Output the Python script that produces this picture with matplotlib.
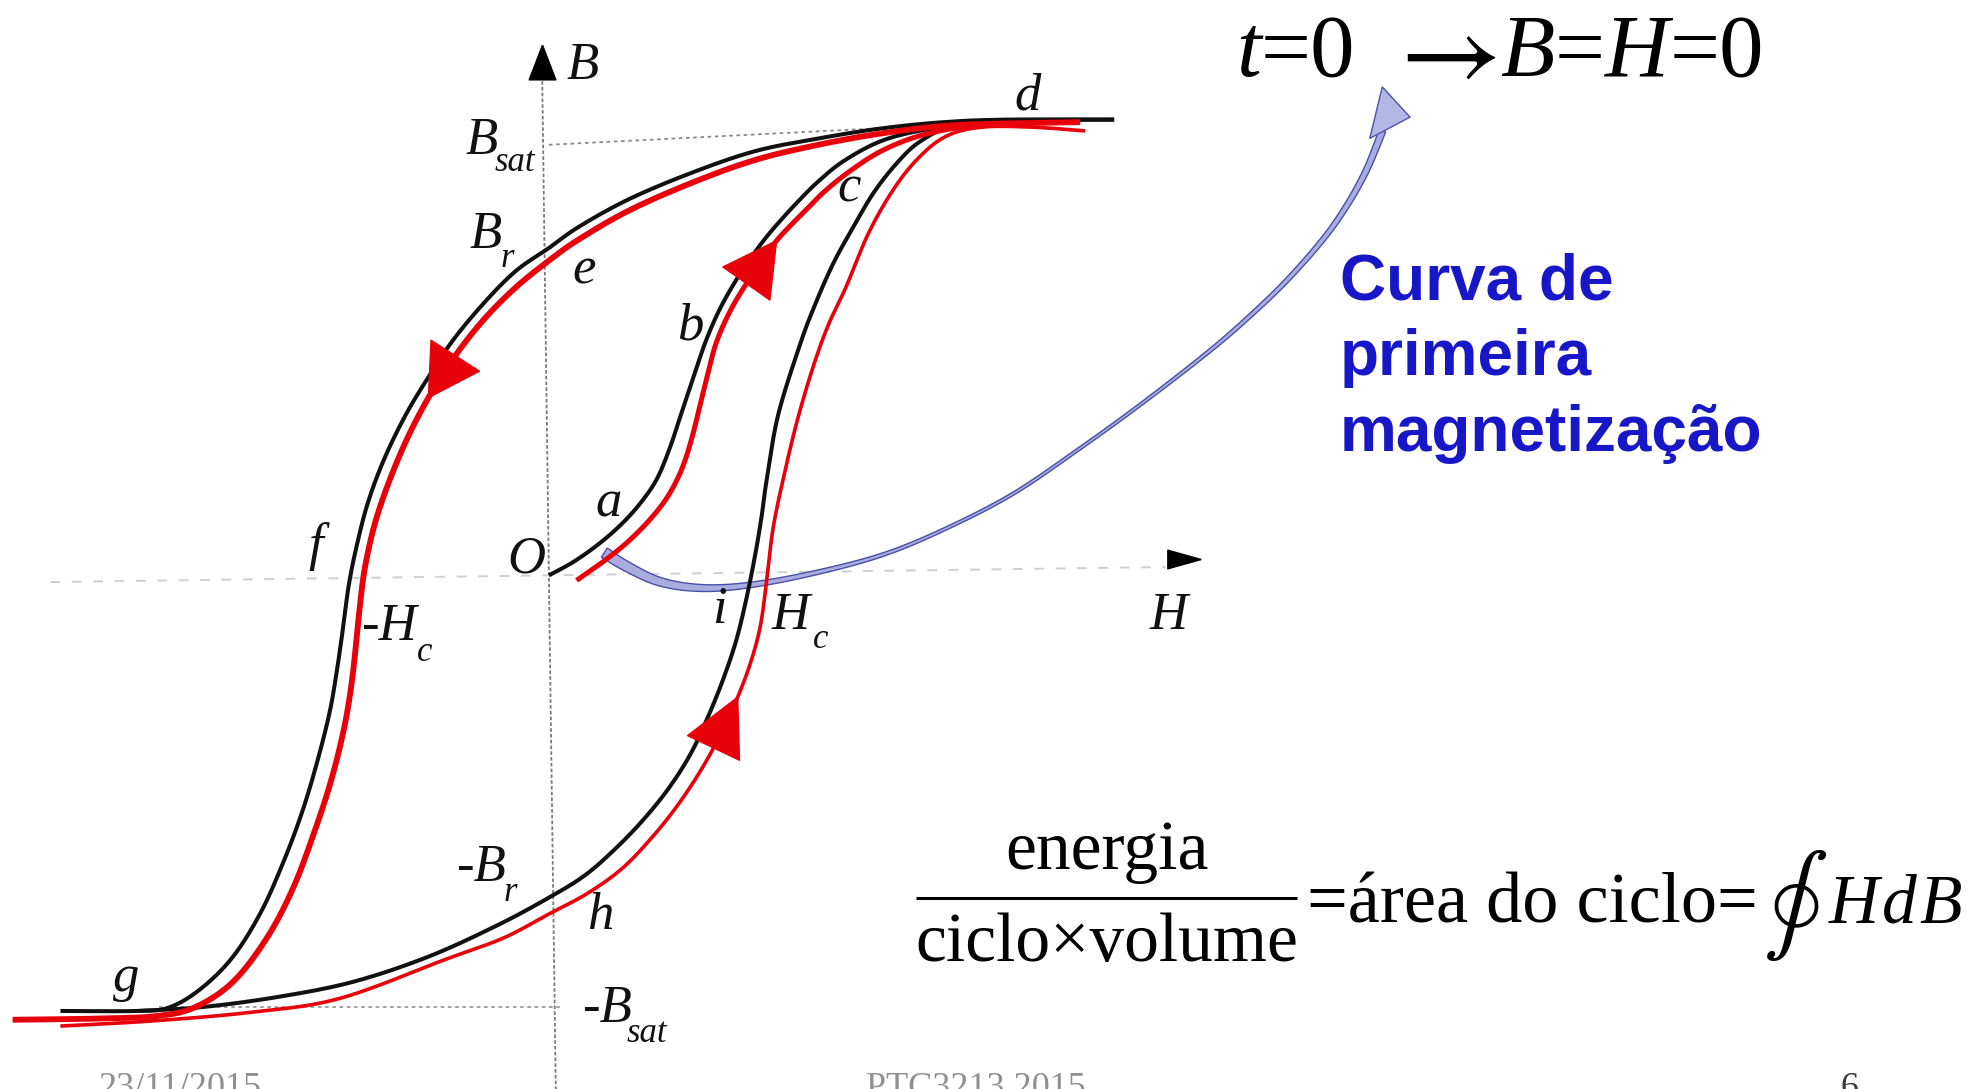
import numpy as np
import matplotlib
matplotlib.use("Agg")
import matplotlib.pyplot as plt
from matplotlib.path import Path
from matplotlib.patches import PathPatch, Polygon
from matplotlib.transforms import Affine2D

# ---------------------------------------------------------------
# Hysteresis loop, H and B in arbitrary units (origin O at 0, 0)
# ---------------------------------------------------------------

# first magnetisation curve  O -> a -> b -> c -> d
init_black_H = [0.00, 0.20, 0.41, 0.59, 0.74, 0.86, 0.96, 1.05, 1.15, 1.25,
                1.36, 1.49, 1.61, 1.73, 1.85, 1.97, 2.13, 2.34, 2.64, 2.99, 3.39]
init_black_B = [0.00, 0.11, 0.26, 0.42, 0.59, 0.77, 1.01, 1.28, 1.58, 1.87,
                2.12, 2.35, 2.53, 2.69, 2.83, 2.96, 3.12, 3.29, 3.45, 3.54, 3.59]
init_red_H = [0.22, 0.42, 0.62, 0.80, 0.94, 1.05, 1.13, 1.20, 1.26, 1.33,
              1.44, 1.57, 1.69, 1.81, 1.93, 2.05, 2.19, 2.39, 2.64, 2.94, 3.29, 3.69]
init_red_B = [-0.04, 0.10, 0.26, 0.44, 0.62, 0.83, 1.07, 1.35, 1.59, 1.85,
              2.10, 2.32, 2.50, 2.66, 2.79, 2.91, 3.05, 3.21, 3.37, 3.49, 3.56, 3.58]

# descending branch  d -> e -> f -> g
desc_black_H = [4.49, 3.64, 3.14, 2.64, 2.14, 1.64, 1.14, 0.64, 0.24, 0.00,
                -0.26, -0.51, -0.76, -0.96, -1.14, -1.31, -1.44, -1.53, -1.59, -1.63,
                -1.68, -1.74, -1.84, -1.96, -2.11, -2.29, -2.51, -2.76, -3.01, -3.26, -3.88]
desc_black_B = [3.62, 3.62, 3.60, 3.55, 3.47, 3.37, 3.20, 2.99, 2.77, 2.60,
                2.42, 2.17, 1.87, 1.57, 1.27, 0.92, 0.57, 0.22, -0.08, -0.38,
                -0.73, -1.08, -1.48, -1.88, -2.28, -2.68, -3.03, -3.28, -3.43, -3.46, -3.46]
desc_red_H = [4.22, 3.64, 3.14, 2.64, 2.14, 1.64, 1.14, 0.64, 0.24, 0.00,
              -0.26, -0.51, -0.74, -0.94, -1.11, -1.26, -1.38, -1.46, -1.50, -1.53,
              -1.57, -1.63, -1.73, -1.86, -2.03, -2.24, -2.51, -2.81, -3.11, -3.56, -4.26]
desc_red_B = [3.60, 3.59, 3.57, 3.51, 3.42, 3.30, 3.12, 2.90, 2.67, 2.50,
              2.29, 2.04, 1.75, 1.44, 1.12, 0.77, 0.42, 0.07, -0.23, -0.53,
              -0.88, -1.23, -1.63, -2.03, -2.48, -2.88, -3.23, -3.43, -3.50, -3.52, -3.53]

# ascending branch  g -> h -> i -> c -> d
asc_black_H = [-3.26, -2.76, -2.16, -1.56, -0.96, -0.41, 0.00, 0.29, 0.54, 0.76,
               0.96, 1.13, 1.27, 1.39, 1.49, 1.57, 1.64, 1.69, 1.73, 1.82,
               1.99, 2.11, 2.26, 2.42, 2.58, 2.76, 2.94, 3.19, 3.64, 4.49]
asc_black_B = [-3.46, -3.43, -3.35, -3.23, -3.03, -2.78, -2.56, -2.38, -2.16, -1.93,
               -1.68, -1.41, -1.11, -0.81, -0.51, -0.18, 0.17, 0.47, 0.76, 1.27,
               1.82, 2.14, 2.48, 2.77, 3.04, 3.27, 3.44, 3.56, 3.61, 3.62]
asc_red_H = [-3.88, -3.16, -2.36, -1.66, -0.82, -0.36, 0.00, 0.30, 0.58, 0.82,
             1.02, 1.20, 1.35, 1.49, 1.60, 1.68, 1.73, 1.78, 1.86,
             1.97, 2.10, 2.22, 2.36, 2.54, 2.74, 2.94, 3.16, 3.44, 3.84, 4.26]
asc_red_B = [-3.58, -3.54, -3.47, -3.36, -3.05, -2.88, -2.69, -2.53, -2.33, -2.08,
             -1.83, -1.56, -1.29, -0.99, -0.70, -0.40, -0.04, 0.37, 0.76,
             1.22, 1.66, 1.99, 2.29, 2.72, 3.07, 3.32, 3.49, 3.56, 3.56, 3.53]

# B level of the tip of each direction arrow on the red branches
arrow_tip_B = {"init": 2.66, "desc": 1.41, "asc": -0.97}

# callout arrow "curva de primeira magnetizacao" (centre line, width in px)
callout_H = [0.44, 0.62, 0.88, 1.20, 1.57, 2.07, 2.64, 3.15, 3.69, 4.22,
             4.69, 5.17, 5.48, 5.84, 6.15, 6.34, 6.48, 6.57, 6.62]
callout_B = [0.18, 0.07, -0.05, -0.10, -0.08, 0.01, 0.16, 0.37, 0.65, 1.01,
             1.35, 1.72, 1.98, 2.32, 2.67, 2.94, 3.19, 3.40, 3.53]
callout_w = [11, 10, 8.5, 7, 5.5, 4.5, 3.5, 3, 3, 3,
             3, 3.5, 4, 4.5, 5, 5.5, 6, 6.5, 7]
callout_head_H = [6.52, 6.62, 6.84]
callout_head_B = [3.47, 3.88, 3.64]

SERIF = "Liberation Serif"
SANS = "Liberation Sans"
RED = "#e8000b"
BLACK = "#111111"

fig = plt.figure(figsize=(19.74, 10.89), dpi=100)
ax = fig.add_axes([0, 0, 1, 1])
ax.set_xlim(-4.36, 11.32)
ax.set_ylim(-4.08, 4.57)
ax.axis("off")
PX = 1974 / 15.68  # pixels per data unit


def bezier_points(xs, ys, n=24):
    """Sample a Catmull-Rom spline through the given knots."""
    P = np.column_stack([xs, ys]).astype(float)
    E = np.vstack([P[0], P, P[-1]])
    t = np.linspace(0, 1, n, endpoint=False)[:, None]
    out = []
    for i in range(len(P) - 1):
        p0, p1, p2, p3 = E[i], E[i + 1], E[i + 2], E[i + 3]
        c1 = p1 + (p2 - p0) / 6
        c2 = p2 - (p3 - p1) / 6
        out.append((1 - t) ** 3 * p1 + 3 * (1 - t) ** 2 * t * c1
                   + 3 * (1 - t) * t ** 2 * c2 + t ** 3 * p2)
    out.append(P[-1][None, :])
    return np.vstack(out)


def draw_branch(xs, ys, color, lw, z):
    pts = bezier_points(xs, ys)
    ax.add_patch(PathPatch(Path(pts), fill=False, ec=color, lw=lw,
                           capstyle="butt", joinstyle="round", zorder=z))


def arrowhead(xs, ys, tip_b, length, width, color):
    pts = bezier_points(xs, ys, 60)
    b = pts[:, 1]
    idx = np.where(np.diff(np.sign(b - tip_b)) != 0)[0][0] + 1
    s = np.concatenate([[0], np.cumsum(np.hypot(*np.diff(pts, axis=0).T))])
    sb = s[idx] - length
    base = np.array([np.interp(sb, s, pts[:, 0]), np.interp(sb, s, pts[:, 1])])
    tip = pts[idx]
    d = (tip - base) / np.linalg.norm(tip - base)
    nrm = np.array([-d[1], d[0]])
    tri = [tip, base + nrm * width / 2, base - nrm * width / 2]
    ax.add_patch(Polygon(tri, closed=True, fc=color, ec=color, lw=0.8, zorder=6))


# ---- axes of the diagram (slightly tilted, as on the scanned slide) ----
tilt = Affine2D().rotate_deg(0.77) + ax.transData
ax.plot([0, 0], [-4.2, 4.02], color="#7a7a7a", lw=1.3, ls=(0, (2, 1.2)),
        transform=tilt, zorder=1)
ax.plot([-3.96, 4.9], [0, 0], color="#cfcfcf", lw=1.4, ls=(0, (5, 6)),
        transform=tilt, zorder=1)
up_tri = Path([(0, 0.5), (-0.385, -0.5), (0.385, -0.5), (0, 0.5)])
right_tri = Path([(0.5, 0), (-0.5, 0.28), (-0.5, -0.28), (0.5, 0)])
ax.plot([0], [4.08], marker=up_tri, ms=25, color="black", transform=tilt, zorder=3)
ax.plot([5.05], [0.06], marker=right_tri, ms=24, color="black", transform=tilt, zorder=3)

# saturation guide lines
ax.plot([0.0, 3.0], [3.42, 3.57], color="#8a8a8a", lw=1.3, ls=(0, (2, 2)), zorder=1)
ax.plot([-3.1, 0.1], [-3.43, -3.43], color="#9a9a9a", lw=1.3, ls=(0, (2, 2)), zorder=1)

# ---- callout arrow (light violet, drawn under the curves) ----
cpts = bezier_points(callout_H, callout_B, 20)
seg_par = np.linspace(0, len(callout_H) - 1, len(cpts))
w = np.interp(seg_par, np.arange(len(callout_H)), callout_w) / PX
tang = np.gradient(cpts, axis=0)
tang /= np.linalg.norm(tang, axis=1)[:, None]
nrm = np.column_stack([-tang[:, 1], tang[:, 0]])
left = cpts + nrm * w[:, None] / 2
right = cpts - nrm * w[:, None] / 2
ax.add_patch(Polygon(np.vstack([left, right[::-1]]), closed=True,
                     fc="#a9acdf", ec="#4a4fa8", lw=1.0, zorder=2))
ax.add_patch(Polygon(np.column_stack([callout_head_H, callout_head_B]), closed=True,
                     fc="#b4b7e6", ec="#4a4fa8", lw=1.0, zorder=2))

# ---- hysteresis curves ----
draw_branch(init_black_H, init_black_B, BLACK, 2.9, 3)
draw_branch(desc_black_H, desc_black_B, BLACK, 2.9, 3)
draw_branch(asc_black_H, asc_black_B, BLACK, 2.9, 3)
draw_branch(init_red_H, init_red_B, RED, 3.6, 4)
draw_branch(desc_red_H, desc_red_B, RED, 4.2, 4)
draw_branch(asc_red_H, asc_red_B, RED, 2.6, 4)

arrowhead(init_red_H, init_red_B, arrow_tip_B["init"], 0.42, 0.46, RED)
arrowhead(desc_red_H, desc_red_B, arrow_tip_B["desc"], 0.40, 0.46, RED)
arrowhead(asc_red_H, asc_red_B, arrow_tip_B["asc"], 0.45, 0.46, RED)


# ---- point labels ----
def lab(s, h, b, size=38):
    ax.text(h, b, s, fontsize=size, family=SERIF, style="italic",
            ha="left", va="baseline", color="#111111", zorder=7)


lab("B", 0.14, 3.94)
lab("d", 3.70, 3.70)
lab("B", -0.66, 3.35); lab("sat", -0.43, 3.21, 25)
lab("c", 2.29, 2.97)
lab("B", -0.63, 2.60); lab("r", -0.38, 2.45, 25)
lab("e", 0.19, 2.32)
lab("b", 1.02, 1.87)
lab("a", 0.37, 0.47)
lab("O", -0.33, 0.02)
lab("f", -1.91, 0.12)
lab("-H", -1.49, -0.51); lab("c", -1.05, -0.68, 25)
lab("i", 1.30, -0.38)
lab("H", 1.77, -0.43); lab("c", 2.10, -0.58, 25)
lab("H", 4.77, -0.43)
lab("-B", -0.74, -2.43); lab("r", -0.36, -2.59, 25)
lab("h", 0.30, -2.81)
lab("g", -3.46, -3.30)
lab("-B", 0.26, -3.55); lab("sat", 0.62, -3.71, 25)

# ---- initial condition  t=0 -> B=H=0 ----
FS = 64
fam = [SERIF, "DejaVu Serif"]


def chain(prev, s, gap=0.0, italic=False, size=FS, ycoords=None):
    return ax.annotate(s, xy=(1, 0), xycoords=prev if ycoords is None else (prev, ycoords),
                       xytext=(gap, 0), textcoords="offset points", fontsize=size,
                       family=fam, style="italic" if italic else "normal",
                       ha="left", va="bottom", color="black", zorder=7)


t0 = ax.text(5.46, 3.97, "t", fontsize=FS, family=fam, style="italic",
             ha="left", va="baseline", color="black", zorder=7)
p = chain(t0, "=0")
arr = ax.annotate(r"$\rightarrow$", xy=(1, 0.5), xycoords=(p, t0), xytext=(20, 0),
                  textcoords="offset points", fontsize=80, math_fontfamily="stix",
                  ha="left", va="center", color="black", zorder=7)
p = chain(arr, "B", gap=3, italic=True, ycoords=t0)
p = chain(p, "=")
p = chain(p, "H", italic=True)
p = chain(p, "=0")

# ---- blue caption ----
for txt, b in [("Curva de", 2.19), ("primeira", 1.59), ("magnetização", 0.99)]:
    ax.text(6.28, b, txt, fontsize=46, family=SANS, weight="bold",
            color="#1717c8", ha="left", va="baseline", zorder=7)

# ---- energy per cycle ----
EQ = 50
ax.plot([2.92, 5.94], [-2.56, -2.56], color="black", lw=2.2, solid_capstyle="butt")
ax.text(4.43, -2.33, "energia", fontsize=EQ, family=SERIF, ha="center", va="baseline")
ax.text(4.43, -3.06, "ciclo\u00d7volume", fontsize=EQ, family=SERIF, ha="center", va="baseline")
ax.text(6.02, -2.76, "=área do ciclo=", fontsize=52, family=SERIF,
        ha="left", va="baseline")
ax.text(9.90, -2.63, r"$\oint$", fontsize=70, math_fontfamily="stix",
        ha="center", va="center")
hh = ax.text(10.17, -2.76, "H", fontsize=EQ, family=SERIF, style="italic",
             ha="left", va="baseline")
dd = chain(hh, "d", gap=2, italic=True, size=EQ)
chain(dd, "B", gap=2, italic=True, size=EQ)

# ---- footer ----
ax.text(-3.58, -4.14, "23/11/2015", fontsize=26, family=SERIF, color="#8f8f8f",
        ha="left", va="baseline")
ax.text(2.52, -4.14, "PTC3213 2015", fontsize=26, family=SERIF, color="#8f8f8f",
        ha="left", va="baseline")
ax.text(10.26, -4.14, "6", fontsize=26, family=SERIF, color="#3a3a3a",
        ha="left", va="baseline")

fig.savefig("out.png", dpi=100, facecolor="white")
